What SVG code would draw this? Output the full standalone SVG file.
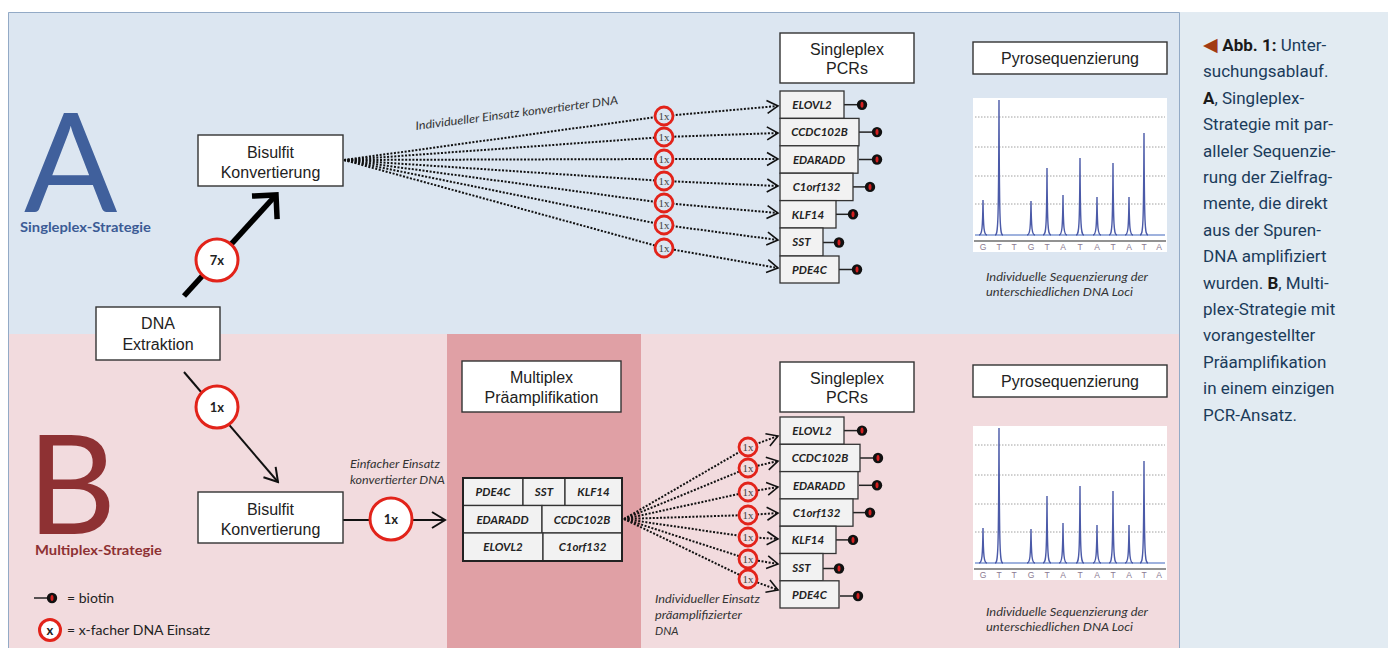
<svg xmlns="http://www.w3.org/2000/svg" xmlns:xlink="http://www.w3.org/1999/xlink" width="1388" height="648" viewBox="0 0 1388 648">
<style>
.box{fill:#fff;stroke:#333;stroke-width:1.4}
.gbox{fill:#f2f2f2;stroke:#333;stroke-width:1.3}
.bt{font-family:"Liberation Sans",Arial,sans-serif;font-size:16px;fill:#222;text-anchor:middle}
.gene{font-family:Lato,"Open Sans",sans-serif;font-weight:700;font-style:italic;font-size:11.5px;fill:#222;text-anchor:middle}
.ital{font-family:Lato,"Open Sans",sans-serif;font-style:italic;font-size:11.5px;fill:#333}
.cap{font-family:Roboto,"Liberation Sans",sans-serif;font-size:17px;fill:#1b3b5a}
.capb{font-weight:700;fill:#1a1a1a}
.dot{fill:none;stroke:#111;stroke-width:2;stroke-dasharray:2 1.6}
.bc{fill:#fff;stroke:#e2231a;stroke-width:3}
.bct{font-family:Lato,"Open Sans",sans-serif;font-weight:700;font-size:13px;fill:#222;text-anchor:middle}
.sc{stroke:#e2231a;stroke-width:2.8}
.sct{font-family:"Liberation Serif",serif;font-size:11px;fill:#444;text-anchor:middle}
.lol{stroke:#222;stroke-width:1.5}
.pk{fill:none;stroke:#4b5aa8;stroke-width:1.4}
.grid{stroke:#a0a0a0;stroke-width:1;stroke-dasharray:1.5 1.5}
.nt{font-family:"Liberation Sans",Arial,sans-serif;font-size:8.5px;fill:#8a7a92;text-anchor:middle}
.leg{font-family:Lato,"Open Sans",sans-serif;font-size:14px;fill:#222}
</style>
<defs>
<marker id="chev" viewBox="-13 -8 15 16" refX="0" refY="0" markerWidth="15" markerHeight="16" orient="auto" markerUnits="userSpaceOnUse">
<path d="M-11,-6.5 L0,0 L-11,6.5" fill="none" stroke="#111" stroke-width="1.6"/>
</marker>
<marker id="chevb" viewBox="-16 -10 18 20" refX="0" refY="0" markerWidth="18" markerHeight="20" orient="auto" markerUnits="userSpaceOnUse">
<path d="M-13,-8 L0,0 L-13,8" fill="none" stroke="#111" stroke-width="2"/>
</marker>
<marker id="chevt" viewBox="-24 -24 28 48" refX="0" refY="0" markerWidth="28" markerHeight="48" orient="auto" markerUnits="userSpaceOnUse">
<path d="M-17,-17 L0,0 L-17,17" fill="none" stroke="#000" stroke-width="5.5"/>
</marker>
<g id="biotin">
<line class="lol" x1="-18" y1="0" x2="0" y2="0"/>
<circle cx="0" cy="0" r="5.2" fill="#111"/>
<ellipse cx="0" cy="0" rx="1.5" ry="3" fill="#d42020"/>
</g>
<g id="pyro-chart">
<rect x="973" y="98" width="194" height="154" fill="#fff"/>
<line class="grid" x1="975" y1="117" x2="1165" y2="117"/>
<line class="grid" x1="975" y1="147" x2="1165" y2="147"/>
<line class="grid" x1="975" y1="176" x2="1165" y2="176"/>
<line class="grid" x1="975" y1="204" x2="1165" y2="204"/>
<line x1="975" y1="235" x2="1165" y2="235" stroke="#9fb2de" stroke-width="2"/>
<path class="pk" d="M979,235 C982,235 982.6,229 983,200 C983.4,229 984,235 987,235"/>
<path class="pk" d="M995,235 C998,235 998.6,229 999,100 C999.4,229 1000,235 1003,235"/>
<path class="pk" d="M1027,235 C1030,235 1030.6,229 1031,201 C1031.4,229 1032,235 1035,235"/>
<path class="pk" d="M1043,235 C1046,235 1046.6,229 1047,168 C1047.4,229 1048,235 1051,235"/>
<path class="pk" d="M1059,235 C1062,235 1062.6,229 1063,195 C1063.4,229 1064,235 1067,235"/>
<path class="pk" d="M1076,235 C1079,235 1079.6,229 1080,158 C1080.4,229 1081,235 1084,235"/>
<path class="pk" d="M1093,235 C1096,235 1096.6,229 1097,197 C1097.4,229 1098,235 1101,235"/>
<path class="pk" d="M1109,235 C1112,235 1112.6,229 1113,163 C1113.4,229 1114,235 1117,235"/>
<path class="pk" d="M1125,235 C1128,235 1128.6,229 1129,197 C1129.4,229 1130,235 1133,235"/>
<path class="pk" d="M1140,235 C1143,235 1143.6,229 1144,133 C1144.4,229 1145,235 1148,235"/>
<line x1="974" y1="241" x2="1166" y2="241" stroke="#6e6e6e" stroke-width="1.3"/>
<text class="nt" y="249.5"><tspan x="983">G</tspan><tspan x="999">T</tspan><tspan x="1014">T</tspan><tspan x="1031">G</tspan><tspan x="1047">T</tspan><tspan x="1063">A</tspan><tspan x="1080">T</tspan><tspan x="1097">A</tspan><tspan x="1113">T</tspan><tspan x="1129">A</tspan><tspan x="1144">T</tspan><tspan x="1159">A</tspan></text>
</g>
</defs>

<!-- backgrounds -->
<rect x="0" y="0" width="1388" height="648" fill="#fff"/>
<rect x="8" y="12" width="1172" height="322" fill="#dce6f1"/>
<rect x="8" y="334" width="1172" height="314" fill="#f2dbde"/>
<rect x="447" y="334" width="194" height="314" fill="#e0a0a5"/>
<rect x="1180" y="12" width="208" height="636" fill="#e2ebf2"/>
<path d="M8.5,648 V12.5 H1179.5 V648" fill="none" stroke="#93aac6" stroke-width="1"/>

<!-- section labels -->
<g id="label-A">
<text x="24" y="212" font-family="Lato,'Open Sans',sans-serif" font-size="138" fill="#40609c">A</text>
<text x="20" y="232" font-family="Lato,'Open Sans',sans-serif" font-weight="700" font-size="14" fill="#3b5b95" textLength="131" lengthAdjust="spacingAndGlyphs">Singleplex-Strategie</text>
</g>
<g id="label-B">
<text x="27" y="534" font-family="Lato,'Open Sans',sans-serif" font-size="138" fill="#8e3133">B</text>
<text x="35" y="555" font-family="Lato,'Open Sans',sans-serif" font-weight="700" font-size="14" fill="#8e3133" textLength="127" lengthAdjust="spacingAndGlyphs">Multiplex-Strategie</text>
</g>

<!-- connectors -->
<g id="connectors">
<line x1="184" y1="296" x2="276" y2="195" stroke="#000" stroke-width="5.5" marker-end="url(#chevt)"/>
<line x1="184" y1="372" x2="278" y2="482" stroke="#111" stroke-width="2" marker-end="url(#chevb)"/>
<line x1="343" y1="520" x2="445" y2="520" stroke="#111" stroke-width="2" marker-end="url(#chevb)"/>
<g id="fan-A">
<path class="dot" d="M344,160 L664,116 L778,106" marker-end="url(#chev)"/>
<path class="dot" d="M344,160 L664,137 L778,133" marker-end="url(#chev)"/>
<path class="dot" d="M344,160 L664,159 L778,159" marker-end="url(#chev)"/>
<path class="dot" d="M344,160 L664,181 L778,186" marker-end="url(#chev)"/>
<path class="dot" d="M344,160 L664,203 L778,213" marker-end="url(#chev)"/>
<path class="dot" d="M344,160 L664,225 L778,240" marker-end="url(#chev)"/>
<path class="dot" d="M344,160 L664,248 L778,268" marker-end="url(#chev)"/>
</g>
<g id="fan-B">
<path class="dot" d="M624,519 L748,447 L778,436" marker-end="url(#chev)"/>
<path class="dot" d="M624,519 L748,468 L778,461" marker-end="url(#chev)"/>
<path class="dot" d="M624,519 L748,492 L778,487" marker-end="url(#chev)"/>
<path class="dot" d="M624,519 L748,515 L778,513" marker-end="url(#chev)"/>
<path class="dot" d="M624,519 L748,537 L778,539" marker-end="url(#chev)"/>
<path class="dot" d="M624,519 L748,559 L778,564" marker-end="url(#chev)"/>
<path class="dot" d="M624,519 L748,579 L778,590" marker-end="url(#chev)"/>
</g>
</g>

<!-- multiplier circles -->
<g id="mult-7x"><circle class="bc" cx="217" cy="260" r="21"/><text class="bct" x="217" y="265">7x</text></g>
<g id="mult-1x-B"><circle class="bc" cx="217" cy="407" r="21"/><text class="bct" x="217" y="412">1x</text></g>
<g id="mult-1x-conv"><circle class="bc" cx="391" cy="519" r="21"/><text class="bct" x="391" y="524">1x</text></g>
<g id="small-1x-A" fill="#dce6f1">
<circle class="sc" cx="664" cy="116" r="9"/><text class="sct" x="664" y="120">1x</text>
<circle class="sc" cx="664" cy="137" r="9"/><text class="sct" x="664" y="141">1x</text>
<circle class="sc" cx="664" cy="159" r="9"/><text class="sct" x="664" y="163">1x</text>
<circle class="sc" cx="664" cy="181" r="9"/><text class="sct" x="664" y="185">1x</text>
<circle class="sc" cx="664" cy="203" r="9"/><text class="sct" x="664" y="207">1x</text>
<circle class="sc" cx="664" cy="225" r="9"/><text class="sct" x="664" y="229">1x</text>
<circle class="sc" cx="664" cy="248" r="9"/><text class="sct" x="664" y="252">1x</text>
</g>
<g id="small-1x-B" fill="#f2dbde">
<circle class="sc" cx="748" cy="447" r="9"/><text class="sct" x="748" y="451">1x</text>
<circle class="sc" cx="748" cy="468" r="9"/><text class="sct" x="748" y="472">1x</text>
<circle class="sc" cx="748" cy="492" r="9"/><text class="sct" x="748" y="496">1x</text>
<circle class="sc" cx="748" cy="515" r="9"/><text class="sct" x="748" y="519">1x</text>
<circle class="sc" cx="748" cy="537" r="9"/><text class="sct" x="748" y="541">1x</text>
<circle class="sc" cx="748" cy="559" r="9"/><text class="sct" x="748" y="563">1x</text>
<circle class="sc" cx="748" cy="579" r="9"/><text class="sct" x="748" y="583">1x</text>
</g>

<!-- connector labels -->
<text class="ital" transform="translate(416,130) rotate(-7.3)" textLength="204" lengthAdjust="spacingAndGlyphs">Individueller Einsatz konvertierter DNA</text>
<text class="ital" x="350" y="468" textLength="90" lengthAdjust="spacingAndGlyphs">Einfacher Einsatz</text>
<text class="ital" x="350" y="484" textLength="95" lengthAdjust="spacingAndGlyphs">konvertierter DNA</text>
<text class="ital" x="655" y="603" textLength="105" lengthAdjust="spacingAndGlyphs">Individueller Einsatz</text>
<text class="ital" x="655" y="619" textLength="87" lengthAdjust="spacingAndGlyphs">präamplifizierter</text>
<text class="ital" x="655" y="635">DNA</text>

<!-- nodes -->
<g id="dna-extraktion">
<rect class="box" x="96" y="307" width="124" height="53"/>
<text class="bt" x="158" y="329">DNA</text>
<text class="bt" x="158" y="350">Extraktion</text>
</g>
<g id="bisulfit-A">
<rect class="box" x="198" y="135" width="145" height="51"/>
<text class="bt" x="270.5" y="158">Bisulfit</text>
<text class="bt" x="270.5" y="178">Konvertierung</text>
</g>
<g id="bisulfit-B">
<rect class="box" x="198" y="492" width="145" height="51"/>
<text class="bt" x="270.5" y="515">Bisulfit</text>
<text class="bt" x="270.5" y="535">Konvertierung</text>
</g>
<g id="multiplex-praeamp">
<rect class="box" x="462" y="361" width="159" height="51"/>
<text class="bt" x="541.5" y="383">Multiplex</text>
<text class="bt" x="541.5" y="403">Präamplifikation</text>
</g>
<g id="multiplex-genes">
<rect class="gbox" x="463" y="478" width="60" height="27.5"/>
<rect class="gbox" x="523" y="478" width="42" height="27.5"/>
<rect class="gbox" x="565" y="478" width="57" height="27.5"/>
<rect class="gbox" x="463" y="505.5" width="79" height="27.5"/>
<rect class="gbox" x="542" y="505.5" width="80" height="27.5"/>
<rect class="gbox" x="463" y="533" width="80" height="28"/>
<rect class="gbox" x="543" y="533" width="79" height="28"/>
<rect x="463" y="478" width="159" height="83" fill="none" stroke="#222" stroke-width="2"/>
<text class="gene" x="493" y="496">PDE4C</text>
<text class="gene" x="544" y="496">SST</text>
<text class="gene" x="593.5" y="496">KLF14</text>
<text class="gene" x="502.5" y="523.5">EDARADD</text>
<text class="gene" x="582" y="523.5">CCDC102B</text>
<text class="gene" x="503" y="551">ELOVL2</text>
<text class="gene" x="582.5" y="551">C1orf132</text>
</g>

<g id="singleplex-A">
<rect class="box" x="780" y="33" width="134" height="50"/>
<text class="bt" x="847" y="55">Singleplex</text>
<text class="bt" x="847" y="74">PCRs</text>
</g>
<g id="genes-A">
<use xlink:href="#biotin" x="862" y="104.7"/>
<use xlink:href="#biotin" x="877" y="132.1"/>
<use xlink:href="#biotin" x="877" y="159.5"/>
<use xlink:href="#biotin" x="870" y="186.9"/>
<use xlink:href="#biotin" x="853" y="214.3"/>
<use xlink:href="#biotin" x="839" y="242.5"/>
<use xlink:href="#biotin" x="857" y="269.5"/>
<rect class="gbox" x="780" y="91" width="64" height="27.4"/>
<rect class="gbox" x="780" y="118.4" width="79" height="27.4"/>
<rect class="gbox" x="780" y="145.8" width="78" height="27.4"/>
<rect class="gbox" x="780" y="173.2" width="73" height="27.4"/>
<rect class="gbox" x="780" y="200.6" width="56" height="27.4"/>
<rect class="gbox" x="780" y="228" width="43" height="28"/>
<rect class="gbox" x="780" y="256" width="59" height="27"/>
<text class="gene" x="812" y="109">ELOVL2</text>
<text class="gene" x="819.5" y="136.4">CCDC102B</text>
<text class="gene" x="819" y="163.8">EDARADD</text>
<text class="gene" x="816.5" y="191.2">C1orf132</text>
<text class="gene" x="808" y="218.6">KLF14</text>
<text class="gene" x="801.5" y="246.3">SST</text>
<text class="gene" x="809.5" y="273.8">PDE4C</text>
</g>

<g id="singleplex-B">
<rect class="box" x="780" y="362" width="134" height="50"/>
<text class="bt" x="847" y="384">Singleplex</text>
<text class="bt" x="847" y="403">PCRs</text>
</g>
<g id="genes-B">
<use xlink:href="#biotin" x="862" y="430.6"/>
<use xlink:href="#biotin" x="878" y="458"/>
<use xlink:href="#biotin" x="877" y="485.3"/>
<use xlink:href="#biotin" x="870" y="512.6"/>
<use xlink:href="#biotin" x="853" y="539.9"/>
<use xlink:href="#biotin" x="839" y="568.5"/>
<use xlink:href="#biotin" x="858" y="596"/>
<rect class="gbox" x="780" y="417" width="64" height="27.3"/>
<rect class="gbox" x="780" y="444.3" width="80" height="27.3"/>
<rect class="gbox" x="780" y="471.6" width="78" height="27.3"/>
<rect class="gbox" x="780" y="498.9" width="73" height="27.3"/>
<rect class="gbox" x="780" y="526.2" width="56" height="27.3"/>
<rect class="gbox" x="780" y="553.5" width="43" height="27.3"/>
<rect class="gbox" x="780" y="580.8" width="59" height="27.2"/>
<text class="gene" x="812" y="434.9">ELOVL2</text>
<text class="gene" x="820" y="462.3">CCDC102B</text>
<text class="gene" x="819" y="489.6">EDARADD</text>
<text class="gene" x="816.5" y="516.9">C1orf132</text>
<text class="gene" x="808" y="544.2">KLF14</text>
<text class="gene" x="801.5" y="571.5">SST</text>
<text class="gene" x="809.5" y="598.8">PDE4C</text>
</g>

<g id="pyro-A">
<rect class="box" x="973" y="42" width="194" height="32"/>
<text class="bt" x="1070" y="64">Pyrosequenzierung</text>
<use xlink:href="#pyro-chart"/>
<text class="ital" x="986" y="281" textLength="162" lengthAdjust="spacingAndGlyphs">Individuelle Sequenzierung der</text>
<text class="ital" x="986" y="296" textLength="147" lengthAdjust="spacingAndGlyphs">unterschiedlichen DNA Loci</text>
</g>
<g id="pyro-B">
<rect class="box" x="973" y="365" width="194" height="32"/>
<text class="bt" x="1070" y="387">Pyrosequenzierung</text>
<use xlink:href="#pyro-chart" transform="translate(0,328)"/>
<text class="ital" x="986" y="616" textLength="162" lengthAdjust="spacingAndGlyphs">Individuelle Sequenzierung der</text>
<text class="ital" x="986" y="631" textLength="147" lengthAdjust="spacingAndGlyphs">unterschiedlichen DNA Loci</text>
</g>

<!-- legend -->
<g id="legend">
<use xlink:href="#biotin" x="52" y="598"/>
<text class="leg" x="67" y="603">= biotin</text>
<circle cx="50" cy="630" r="10.5" fill="#fff" stroke="#e2231a" stroke-width="3"/>
<text class="bct" x="50" y="634.5" font-size="12">x</text>
<text class="leg" x="67" y="635">= x-facher DNA Einsatz</text>
</g>

<!-- caption -->
<g id="caption">
<text class="cap" x="1203" y="51"><tspan fill="#a23a12" font-size="19">◀</tspan> <tspan class="capb">Abb. 1:</tspan> Unter-</text>
<text class="cap" x="1203" y="77.4">suchungsablauf.</text>
<text class="cap" x="1203" y="103.8"><tspan class="capb">A</tspan>, Singleplex-</text>
<text class="cap" x="1203" y="130.2">Strategie mit par-</text>
<text class="cap" x="1203" y="156.6">alleler Sequenzie-</text>
<text class="cap" x="1203" y="183">rung der Zielfrag-</text>
<text class="cap" x="1203" y="209.4">mente, die direkt</text>
<text class="cap" x="1203" y="235.8">aus der Spuren-</text>
<text class="cap" x="1203" y="262.2">DNA amplifiziert</text>
<text class="cap" x="1203" y="288.6">wurden. <tspan class="capb">B</tspan>, Multi-</text>
<text class="cap" x="1203" y="315">plex-Strategie mit</text>
<text class="cap" x="1203" y="341.4">vorangestellter</text>
<text class="cap" x="1203" y="367.8">Präamplifikation</text>
<text class="cap" x="1203" y="394.2">in einem einzigen</text>
<text class="cap" x="1203" y="420.6">PCR-Ansatz.</text>
</g>
</svg>
